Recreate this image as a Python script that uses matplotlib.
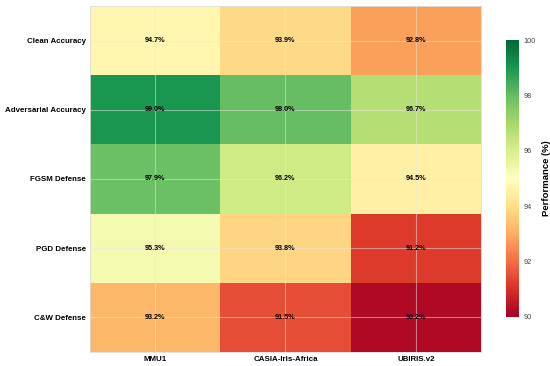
import matplotlib
matplotlib.use("Agg")
import matplotlib.pyplot as plt
import numpy as np

metrics = ["Clean Accuracy", "Adversarial Accuracy", "FGSM Defense", "PGD Defense", "C&W Defense"]
datasets = ["MMU1", "CASIA-Iris-Africa", "UBIRIS.v2"]
mmu1 = [94.7, 99.0, 97.9, 95.3, 93.2]
casia = [93.9, 98.0, 96.2, 93.8, 91.5]
ubiris = [92.8, 96.7, 94.5, 91.2, 90.2]

plt.rcParams['font.family'] = ['Liberation Sans', 'DejaVu Sans']

data = np.array([mmu1, casia, ubiris]).T

fig = plt.figure(figsize=(5.5, 3.66), dpi=100)
ax = fig.add_axes([0.1636, 0.0383, 0.7109, 0.9454])
cax = fig.add_axes([0.92, 0.1339, 0.0236, 0.7568])

nr, nc = data.shape
mesh = ax.pcolormesh(np.arange(nc + 1), np.arange(nr + 1), data, cmap="RdYlGn",
                     vmin=90, vmax=100, zorder=1)
ax.set_xlim(0, nc)
ax.set_ylim(nr, 0)
ax.set_xticks(np.arange(nc) + 0.5)
ax.set_xticklabels(datasets, fontsize=5.7, fontweight="bold")
ax.set_yticks(np.arange(nr) + 0.5)
ax.set_yticklabels(metrics, fontsize=5.7, fontweight="bold")
ax.tick_params(length=0, pad=3)
ax.grid(True, color="#e8e8e8", linewidth=0.8, alpha=0.5, zorder=2)
ax.set_axisbelow(False)
for s in ax.spines.values():
    s.set_color("#dddddd")
    s.set_linewidth(0.6)

for i in range(nr):
    for j in range(nc):
        ax.text(j + 0.5, i + 0.5, f"{data[i, j]:.1f}%", ha="center", va="center",
                fontsize=5.2, fontweight="bold", color="black", zorder=3)

cb = fig.colorbar(mesh, cax=cax)
cb.outline.set_visible(False)
cb.set_ticks([90, 92, 94, 96, 98, 100])
cb.ax.tick_params(labelsize=5.3, length=0, labelcolor="#444444", pad=3)
cb.set_label("Performance (%)", fontsize=6.8, fontweight="bold", labelpad=5)

fig.savefig("out.png", dpi=100)
